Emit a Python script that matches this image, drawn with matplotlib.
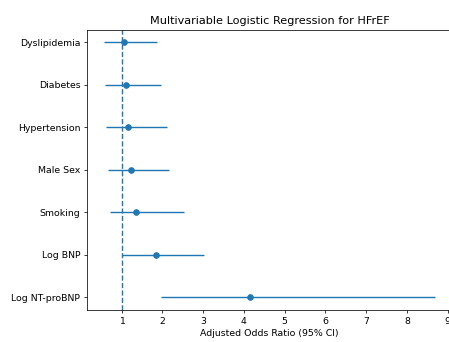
import matplotlib
matplotlib.use('Agg')
import matplotlib.pyplot as plt

# odds ratios with 95% CI
variables = ['Dyslipidemia', 'Diabetes', 'Hypertension', 'Male Sex',
             'Smoking', 'Log BNP', 'Log NT-proBNP']
odds_ratio = [1.05, 1.10, 1.16, 1.24, 1.36, 1.84, 4.14]
ci_lower = [0.56, 0.60, 0.63, 0.68, 0.72, 1.00, 1.98]
ci_upper = [1.88, 1.96, 2.11, 2.17, 2.54, 3.02, 8.70]

DPI = 67.5
fig = plt.figure(figsize=(449 / DPI, 342 / DPI), dpi=DPI)
ax = fig.add_axes([87 / 449, 32 / 342, 365 / 449, 280.5 / 342])

ypos = list(range(len(variables)))
xerr = [[o - l for o, l in zip(odds_ratio, ci_lower)],
        [u - o for o, u in zip(odds_ratio, ci_upper)]]
ax.errorbar(odds_ratio, ypos, xerr=xerr, fmt='o')
ax.axvline(1, linestyle='--')

ax.set_yticks(ypos)
ax.set_yticklabels(variables)
ax.invert_yaxis()
ax.set_xlabel('Adjusted Odds Ratio (95% CI)')
ax.set_title('Multivariable Logistic Regression for HFrEF')

fig.savefig('out.png', dpi=DPI)
